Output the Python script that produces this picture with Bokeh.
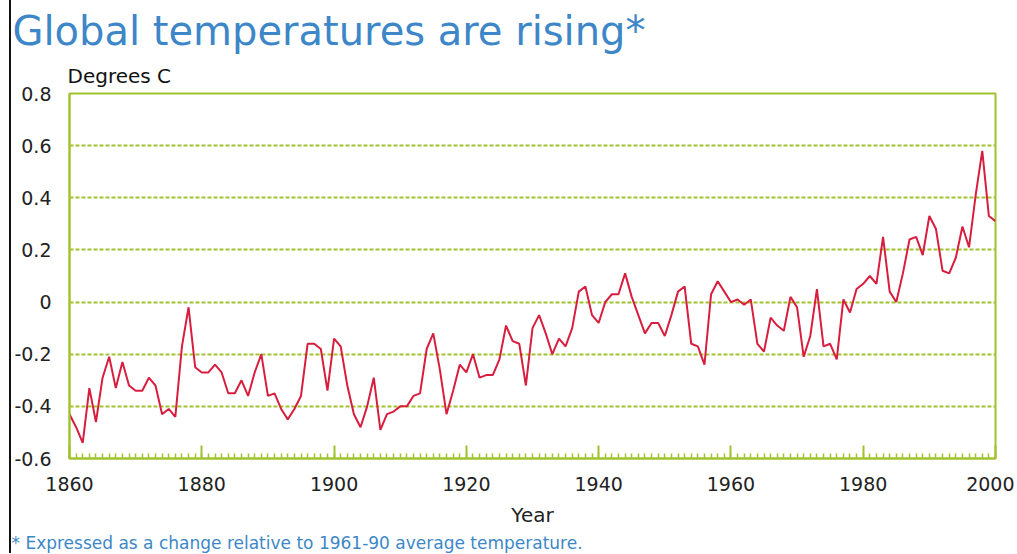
from bokeh.plotting import figure
from bokeh.models import FixedTicker, Title, Range1d
from bokeh.embed import file_html
from bokeh.resources import INLINE

# ---- data ----
years = list(range(1860, 2001))
anomaly = [
    -0.43, -0.48, -0.54, -0.33, -0.46, -0.29, -0.21, -0.33, -0.23, -0.32,  # 1860s
    -0.34, -0.34, -0.29, -0.32, -0.43, -0.41, -0.44, -0.17, -0.02, -0.25,  # 1870s
    -0.27, -0.27, -0.24, -0.27, -0.35, -0.35, -0.30, -0.36, -0.27, -0.20,  # 1880s
    -0.36, -0.35, -0.41, -0.45, -0.41, -0.36, -0.16, -0.16, -0.18, -0.34,  # 1890s
    -0.14, -0.17, -0.32, -0.43, -0.48, -0.40, -0.29, -0.49, -0.43, -0.42,  # 1900s
    -0.40, -0.40, -0.36, -0.35, -0.18, -0.12, -0.26, -0.43, -0.34, -0.24,  # 1910s
    -0.27, -0.20, -0.29, -0.28, -0.28, -0.22, -0.09, -0.15, -0.16, -0.32,  # 1920s
    -0.10, -0.05, -0.12, -0.20, -0.14, -0.17, -0.10, 0.04, 0.06, -0.05,    # 1930s
    -0.08, 0.00, 0.03, 0.03, 0.11, 0.02, -0.05, -0.12, -0.08, -0.08,       # 1940s
    -0.13, -0.05, 0.04, 0.06, -0.16, -0.17, -0.24, 0.03, 0.08, 0.04,       # 1950s
    0.00, 0.01, -0.01, 0.01, -0.16, -0.19, -0.06, -0.09, -0.11, 0.02,      # 1960s
    -0.02, -0.21, -0.13, 0.05, -0.17, -0.16, -0.22, 0.01, -0.04, 0.05,     # 1970s
    0.07, 0.10, 0.07, 0.25, 0.04, 0.00, 0.11, 0.24, 0.25, 0.18,            # 1980s
    0.33, 0.28, 0.12, 0.11, 0.17, 0.29, 0.21, 0.41, 0.58, 0.33,            # 1990s
    0.31,                                                                  # 2000
]
x_ticks = [1860, 1880, 1900, 1920, 1940, 1960, 1980, 2000]
x_tick_labels = ["1860", "1880", "1900", "1920", "1940", "1960", "1980", "2000"]
y_ticks = [-0.6, -0.4, -0.2, 0.0, 0.2, 0.4, 0.6, 0.8]
y_tick_labels = ["-0.6", "-0.4", "-0.2", "0", "0.2", "0.4", "0.6", "0.8"]

title_text = "Global temperatures are rising*"
unit_text = "Degrees C"
x_title = "Year"
footnote_text = "* Expressed as a change relative to 1961-90 average temperature."

# ---- styles ----
GREEN = "#a2c330"
RED = "#d81e3e"
BLUE = "#3d87c8"
FONT = "DejaVu Sans"

p = figure(
    width=1005, height=553,
    output_backend="svg", toolbar_location=None,
    x_range=Range1d(1860, 2000), y_range=Range1d(-0.6, 0.8),
    min_border_left=58, min_border_top=93, min_border_right=21, min_border_bottom=93,
    styles={"margin-left": "9px", "border-left": "2px solid #111111"},
)
p.background_fill_color = "white"
p.border_fill_color = "white"
p.outline_line_color = GREEN
p.outline_line_width = 2

p.line(years, anomaly, line_color=RED, line_width=2)

# x axis
xa = p.xaxis[0]
xa.ticker = FixedTicker(ticks=x_ticks, minor_ticks=years)
xa.major_label_overrides = dict(zip(x_ticks, x_tick_labels))
xa.axis_line_color = GREEN
xa.axis_line_width = 2
xa.major_tick_line_color = GREEN
xa.major_tick_line_width = 2
xa.major_tick_in = 13
xa.major_tick_out = 0
xa.minor_tick_line_color = GREEN
xa.minor_tick_line_width = 1.5
xa.minor_tick_in = 5
xa.minor_tick_out = 0
xa.major_label_standoff = 18
xa.major_label_text_font = FONT
xa.major_label_text_font_size = "19px"
xa.major_label_text_color = "#222222"
xa.axis_label = x_title
xa.axis_label_text_font = FONT
xa.axis_label_text_font_size = "20px"
xa.axis_label_text_font_style = "normal"
xa.axis_label_text_color = "#222222"
xa.axis_label_standoff = 9

# y axis
ya = p.yaxis[0]
ya.ticker = FixedTicker(ticks=y_ticks, minor_ticks=[])
ya.major_label_overrides = dict(zip(y_ticks, y_tick_labels))
ya.axis_line_color = GREEN
ya.axis_line_width = 2
ya.major_tick_line_color = None
ya.minor_tick_line_color = None
ya.major_label_standoff = 12
ya.major_label_text_font = FONT
ya.major_label_text_font_size = "19px"
ya.major_label_text_color = "#222222"

# grid
p.xgrid.grid_line_color = None
p.ygrid.ticker = FixedTicker(ticks=y_ticks, minor_ticks=[])
p.ygrid.grid_line_color = GREEN
p.ygrid.grid_line_width = 2
p.ygrid.grid_line_dash = "4 2"

# texts (titles stacked above the frame; footnote below the x axis)
p.add_layout(Title(text=unit_text, align="left", offset=-2, standoff=11,
                   text_font=FONT, text_font_size="20px", text_color="#111111",
                   text_font_style="normal"), "above")
p.add_layout(Title(text=title_text, align="left", offset=-57, standoff=6,
                   text_font=FONT, text_font_size="40px", text_color=BLUE,
                   text_font_style="normal"), "above")
p.add_layout(Title(text=footnote_text, align="left", offset=-58, standoff=2,
                   text_font=FONT, text_font_size="17px", text_color=BLUE,
                   text_font_style="normal"), "below")

open("out.html", "w").write(file_html(p, INLINE))
